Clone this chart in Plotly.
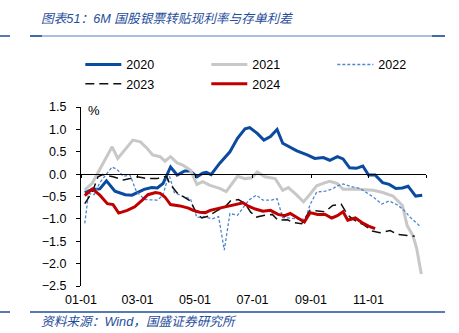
import plotly.graph_objects as go

YEAR = "2020"

d2020 = ["01-05","01-14","01-21","01-28","02-06","02-17","02-24","03-01","03-08","03-16","03-22","03-28",
         "04-05","04-12","04-20","04-26","05-03","05-09","05-13","05-18","05-27","06-07","06-15","06-23",
         "06-28","07-06","07-13","07-20","07-27","08-02","08-09","08-17","08-28","09-05","09-14","09-21",
         "09-29","10-05","10-12","10-19","10-26","11-01","11-08","11-16","11-23","11-30","12-07","12-13",
         "12-21","12-28"]
v2020 = [-0.41,-0.34,-0.33,-0.15,-0.38,-0.46,-0.47,-0.41,-0.34,-0.30,-0.31,-0.21,
         0.16,-0.02,0.07,0.07,-0.06,0.02,0.04,-0.01,0.24,0.50,0.80,1.01,
         1.04,0.91,0.76,0.84,1.00,0.69,0.61,0.52,0.43,0.35,0.37,0.31,
         0.39,0.34,0.14,0.13,0.18,-0.02,-0.02,-0.19,-0.23,-0.32,-0.31,-0.27,
         -0.49,-0.47]

d2021 = ["01-05","01-13","02-03","02-09","02-18","02-25","03-04","03-11","03-17","03-25","03-30","04-05",
         "04-12","04-18","04-26","05-03","05-09","05-17","05-27","06-03","06-15","06-23","06-30","07-06",
         "07-14","07-25","08-02","08-08","08-17","08-24","08-31","09-07","09-16","09-21","09-29","10-05",
         "10-16","10-26","11-06","11-16","11-27","12-07","12-12","12-18","12-22","12-27"]
v2021 = [-0.35,-0.20,0.61,0.35,0.58,0.76,0.72,0.58,0.43,0.39,0.29,0.39,
         0.25,0.20,0.09,-0.23,-0.17,-0.25,-0.32,-0.39,-0.05,-0.10,-0.08,0.05,
         -0.06,-0.10,-0.36,-0.30,-0.47,-0.62,-0.45,-0.26,-0.19,-0.16,-0.21,-0.34,
         -0.33,-0.34,-0.36,-0.41,-0.49,-0.70,-1.15,-1.37,-1.65,-2.23]

d2022 = ["01-05","01-09","01-15","01-21","02-03","02-08","02-15","02-22","02-29","03-09","03-22","03-28",
         "04-01","04-04","04-09","04-17","04-26","05-03","05-10","05-19","05-26","06-01","06-07","06-15",
         "06-21","06-27","07-05","07-12","07-21","07-27","08-02","08-10","08-18","08-26","08-31","09-07",
         "09-16","09-23","09-29","10-05","10-14","10-23","10-30","11-06","11-15","11-23","12-01","12-08",
         "12-15","12-26"]
v2022 = [-1.10,-0.43,-0.46,-0.19,0.16,0.11,-0.05,-0.02,-0.40,-0.57,-0.58,-0.47,
         -0.17,-0.05,-0.41,-0.49,-0.55,-0.97,-0.95,-1.00,-0.95,-1.70,-0.88,-0.92,
         -0.75,-0.58,-0.47,-0.58,-0.58,-0.55,-0.97,-0.99,-1.00,-1.01,-0.68,-0.40,
         -0.38,-0.34,-0.26,-0.22,-0.28,-0.32,-0.42,-0.51,-0.67,-0.60,-0.68,-0.79,
         -0.96,-1.17]

d2023 = ["01-05","01-13","01-19","01-24","02-04","02-15","02-22","03-01","03-11","03-22","03-28","04-01",
         "04-04","04-12","04-19","04-26","05-02","05-08","05-15","05-24","06-02","06-08","06-16","06-23",
         "06-29","07-05","07-14","07-22","07-28","08-07","08-13","08-22","08-31","09-07","09-16","09-24",
         "10-03","10-07","10-12","10-20","10-26","11-05","11-13","11-24","12-02","12-12","12-20"]
v2023 = [-0.66,-0.40,-0.06,-0.01,-0.06,-0.13,-0.10,-0.06,-0.10,-0.10,-0.06,-0.06,
         -0.21,-0.42,-0.51,-0.60,-0.85,-0.98,-0.94,-0.82,-0.73,-0.59,-0.57,-0.66,
         -0.85,-0.96,-0.92,-0.90,-1.03,-1.02,-1.08,-1.11,-0.81,-0.82,-0.84,-0.70,
         -0.67,-0.81,-0.95,-1.07,-1.12,-1.27,-1.31,-1.26,-1.35,-1.37,-1.39]

d2024 = ["01-05","01-13","01-21","01-29","02-04","02-10","02-19","02-27","03-06","03-12","03-20","03-25",
         "03-30","04-05","04-15","04-24","04-29","05-06","05-12","05-17","05-27","06-07","06-15","06-21",
         "06-26","07-04","07-12","07-20","07-28","08-04","08-10","08-17","08-25","08-31","09-08","09-16",
         "09-23","09-29","10-05","10-10","10-18","10-25","11-01","11-08"]
v2024 = [-0.48,-0.33,-0.47,-0.66,-0.68,-0.87,-0.81,-0.73,-0.58,-0.46,-0.41,-0.43,
         -0.51,-0.68,-0.71,-0.76,-0.81,-0.85,-0.86,-0.81,-0.76,-0.70,-0.66,-0.64,
         -0.71,-0.78,-0.83,-0.81,-0.90,-0.93,-0.88,-0.96,-1.07,-0.86,-0.90,-0.90,
         -0.98,-0.93,-0.84,-1.03,-0.98,-1.08,-1.16,-1.22]

tick_dates = ["01-01","03-01","05-01","07-01","09-01","11-01"]
tick_labels = ["01-01","03-01","05-01","07-01","09-01","11-01"]

title_text = "图表51：6M 国股银票转贴现利率与存单利差"
source_text = "资料来源：Wind，国盛证券研究所"

FONT = "Liberation Sans, Arial, Noto Sans CJK SC, sans-serif"
BLUE_TXT = "#1f4e9c"

def full(ds):
    return [f"{YEAR}-{d}" for d in ds]

series = [
    ("2020", d2020, v2020, dict(color="#0a4a9f", width=3)),
    ("2021", d2021, v2021, dict(color="#c8c8c8", width=3)),
    ("2022", d2022, v2022, dict(color="#4f86d0", width=1.3, dash="3px,2px")),
    ("2023", d2023, v2023, dict(color="#111111", width=1.5, dash="9px,5px")),
    ("2024", d2024, v2024, dict(color="#c00000", width=3)),
]

fig = go.Figure()
for name, ds, vs, ln in series:
    fig.add_trace(go.Scatter(x=full(ds), y=vs, name=name, mode="lines", line=ln))

# invisible carrier for the zero-level axis
fig.add_trace(go.Scatter(x=[f"{YEAR}-01-01"], y=[0], xaxis="x2", mode="lines",
                         showlegend=False, hoverinfo="skip", line=dict(width=0)))

x_range = [f"{YEAR}-01-01", "2021-01-01"]
zero_ticks = full(tick_dates) + ["2021-01-01"]

fig.update_layout(
    width=459, height=333,
    margin=dict(l=81, r=33, t=107, b=47),
    paper_bgcolor="white", plot_bgcolor="white",
    font=dict(family=FONT, size=12.5, color="#000"),
    showlegend=True,
    legend=dict(orientation="h", x=-0.002, y=1.319, xanchor="left", yanchor="top",
                entrywidth=75, entrywidthmode="pixels", itemwidth=36,
                font=dict(size=12.5), tracegroupgap=0, bgcolor="rgba(0,0,0,0)"),
    xaxis=dict(type="date", range=x_range, tickvals=full(tick_dates), ticktext=tick_labels,
               showline=False, ticks="", showgrid=False, zeroline=False,
               ticklabelstandoff=4, tickfont=dict(size=12.5)),
    xaxis2=dict(type="date", range=x_range, overlaying="x", anchor="free", position=0.625,
                side="bottom", tickvals=zero_ticks, showticklabels=False,
                showline=True, linecolor="#000", linewidth=1,
                ticks="outside", ticklen=3, tickcolor="#000", showgrid=False, zeroline=False),
    yaxis=dict(range=[-2.5, 1.5], dtick=0.5, tick0=0, tickformat=".1f",
               showline=True, linecolor="#000", linewidth=1,
               ticks="outside", ticklen=4, tickcolor="#000", ticklabelstandoff=7,
               showgrid=False, zeroline=False, tickfont=dict(size=12.5)),
)

def px2paper_x(px):
    return (px - 81) / 345

def px2paper_y(py):
    return (286 - py) / 179

fig.add_annotation(text=f"<i>{title_text}</i>", xref="paper", yref="paper",
                   x=px2paper_x(39), y=px2paper_y(19), xanchor="left", yanchor="middle",
                   showarrow=False, font=dict(size=12.7, color=BLUE_TXT, family=FONT))
fig.add_annotation(text=f"<i>{source_text}</i>", xref="paper", yref="paper",
                   x=px2paper_x(39), y=px2paper_y(322), xanchor="left", yanchor="middle",
                   showarrow=False, font=dict(size=12.7, color=BLUE_TXT, family=FONT))
fig.add_annotation(text="%", xref="paper", yref="paper",
                   x=px2paper_x(86), y=px2paper_y(110), xanchor="left", yanchor="middle",
                   showarrow=False, font=dict(size=13, color="#000"))

# header / footer rules
for (x0, x1, y, col, w) in [
    (0, 10, 36, "#1f4e9c", 1.5), (30, 445, 36, "#8fa9d6", 1.5), (30, 42, 36, "#1f4e9c", 1.5),
    (432, 445, 36, "#1f4e9c", 1.5),
    (0, 10, 312, "#1f4e9c", 1.5), (30, 445, 312, "#1f4e9c", 1.5),
]:
    fig.add_shape(type="line", xref="paper", yref="paper",
                  x0=px2paper_x(x0), x1=px2paper_x(x1), y0=px2paper_y(y), y1=px2paper_y(y),
                  line=dict(color=col, width=w))

fig.write_html("out.html")
